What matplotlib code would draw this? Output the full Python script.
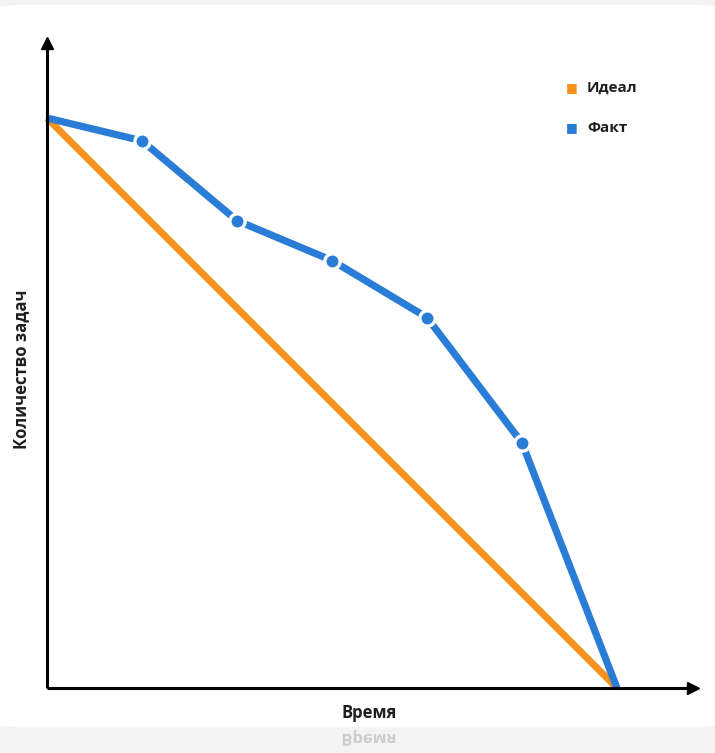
import matplotlib
matplotlib.use("Agg")
import matplotlib.pyplot as plt
from matplotlib.patches import FancyBboxPatch, PathPatch
from matplotlib.textpath import TextPath
from matplotlib.font_manager import FontProperties
from matplotlib.transforms import Affine2D, IdentityTransform

# Data
time_points = [0, 1, 2, 3, 4, 5, 6]
fact_values = [100, 96, 82, 75, 65, 43, 0]
ideal_x = [0, 6]
ideal_values = [100, 0]
legend_labels = ["Идеал", "Факт"]
x_label = "Время"
y_label = "Количество задач"

ORANGE = "#F7911D"
BLUE = "#2A7DD6"
FONT = "Open Sans"

W, H = 715, 753
fig = plt.figure(figsize=(W / 100, H / 100), dpi=100)
fig.patch.set_facecolor("#F3F3F3")

card = FancyBboxPatch((-30, H - 727), W + 60, 722,
                      boxstyle="round,pad=0,rounding_size=45",
                      transform=IdentityTransform(), facecolor="white",
                      edgecolor="none", zorder=-5)
fig.patches.append(card)

x0, y0 = 47, 688
ax = fig.add_axes([x0 / W, (H - y0) / H, (700 - x0) / W, (y0 - 38) / H])
ax.set_zorder(2)
ax.set_facecolor("none")
ax.set_xlim(0, (700 - x0) / 95)
ax.set_ylim(0, (y0 - 38) / 5.7)
for s in ax.spines.values():
    s.set_visible(False)
ax.set_xticks([])
ax.set_yticks([])

# axes with arrows
ax.plot([0, 0.985], [0, 0], transform=ax.transAxes, color="black", lw=2.2,
        clip_on=False, zorder=3, solid_capstyle="butt")
ax.plot([0, 0], [0, 0.985], transform=ax.transAxes, color="black", lw=2.2,
        clip_on=False, zorder=3, solid_capstyle="butt")
ax.plot([0.99], [0], transform=ax.transAxes, marker=">", color="black",
        markersize=9, clip_on=False, zorder=3)
ax.plot([0], [0.993], transform=ax.transAxes, marker="^", color="black",
        markersize=9, clip_on=False, zorder=3)

ax.plot(ideal_x, ideal_values, color=ORANGE, lw=5, clip_on=False, zorder=2,
        solid_capstyle="butt")
ax.plot(time_points, fact_values, color=BLUE, lw=5.2, clip_on=False, zorder=2,
        solid_capstyle="butt", solid_joinstyle="round")
ax.plot(time_points[1:-1], fact_values[1:-1], linestyle="none", marker="o",
        markersize=11, markerfacecolor=BLUE, markeredgecolor="white",
        markeredgewidth=2.4, zorder=4, clip_on=False)

# legend
for i, (lab, col) in enumerate(zip(legend_labels, [ORANGE, BLUE])):
    yy = 88 + 40 * i
    fig.text(572 / W, 1 - yy / H, "■", color=col, fontsize=9,
             ha="center", va="center", family="DejaVu Sans")
    fig.text(587 / W, 1 - yy / H, lab, color="#1E1E1E", fontsize=11,
             ha="left", va="center", family=FONT, weight="bold")

fig.text(369 / W, 1 - 713 / H, x_label, color="#1E1E1E", fontsize=12,
         ha="center", va="center", family=FONT, weight="bold")
fig.text(21 / W, 1 - 369 / H, y_label, color="#1E1E1E", fontsize=12,
         ha="center", va="center", rotation=90, family=FONT, weight="bold")

# reflection of the x label
fp = FontProperties(family=FONT, weight="bold")
tp = TextPath((0, 0), x_label, size=16.5, prop=fp)
bb = tp.get_extents()
tr = Affine2D().translate(-(bb.x0 + bb.x1) / 2, 0).scale(1, -1).translate(369, H - 734)
refl = PathPatch(tr.transform_path(tp), transform=IdentityTransform(),
                 facecolor="#C4C4C4", edgecolor="none", alpha=0.8, zorder=-4)
fig.patches.append(refl)

fig.savefig("out.png", dpi=100, facecolor=fig.get_facecolor())
